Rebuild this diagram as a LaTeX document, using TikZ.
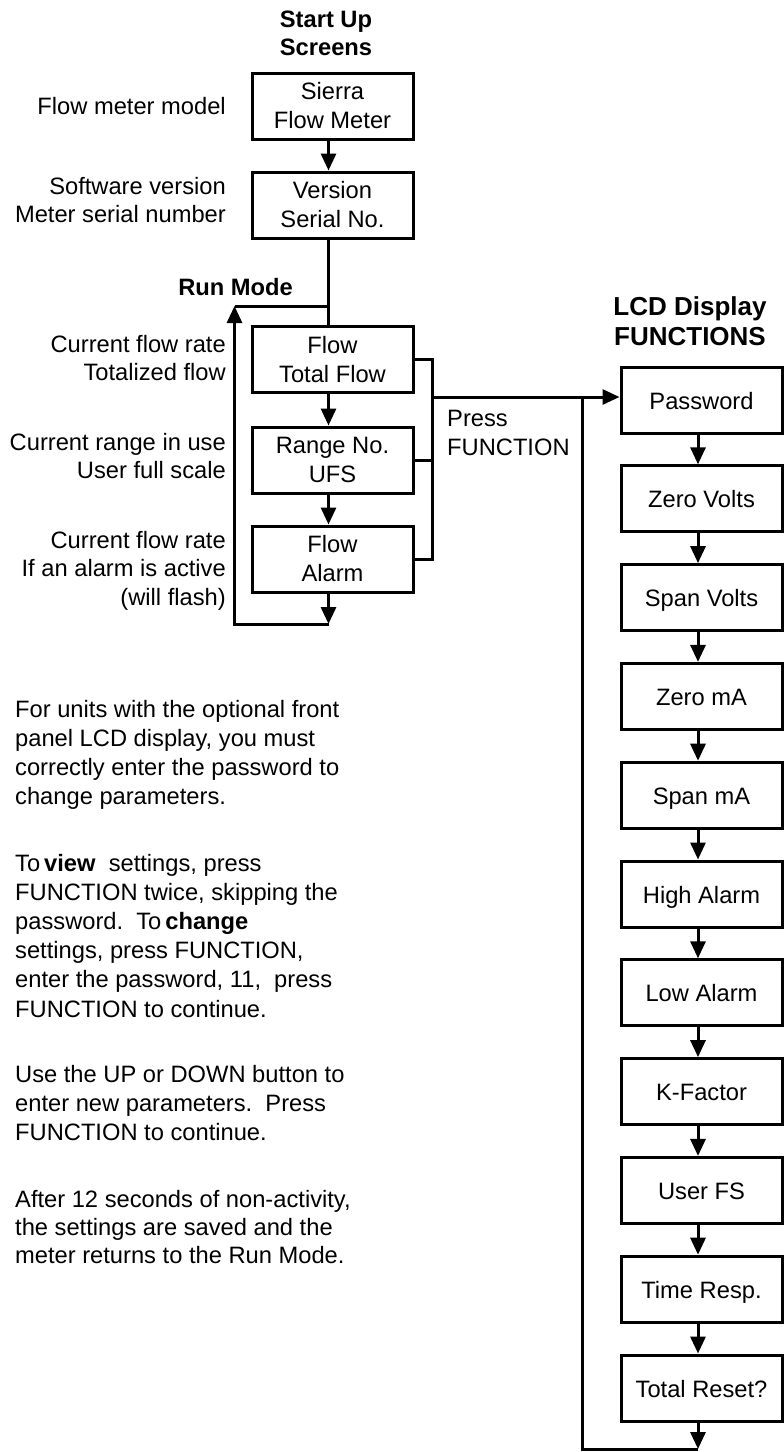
\documentclass[tikz,border=0pt]{standalone}
\usepackage{fontspec}
\setmainfont{Liberation Sans}
\usetikzlibrary{arrows.meta,calc}
\newcommand{\rlines}[1]{\parbox[t]{300pt}{\raggedleft #1}}
\newcommand{\llines}[1]{\parbox[t]{420pt}{\raggedright #1}}
\newcommand{\clines}[1]{\parbox[t]{300pt}{\centering #1}}
\begin{document}
\begin{tikzpicture}[x=1pt,y=-1pt,
  flowbox/.style={draw, line width=3pt, minimum width=161pt, minimum height=66pt,
    inner sep=0pt, align=center, font=\fontsize{23.7}{29}\selectfont},
  funcbox/.style={draw, line width=3pt, minimum width=161pt, minimum height=66pt,
    inner sep=0pt, text height=18pt, text depth=0pt, font=\fontsize{23.7}{29}\selectfont},
  lbl/.style={inner sep=0pt, anchor=base east, font=\fontsize{23.7}{28.5}\selectfont},
  para/.style={inner sep=0pt, anchor=base west, font=\fontsize{23.7}{29.2}\selectfont},
  ttl/.style={inner sep=0pt, anchor=base, font=\bfseries\fontsize{23.7}{28}\selectfont},
  conn/.style={line width=3pt},
  arr/.style={conn, -{Triangle[length=17pt,width=15pt]}},
]
\useasboundingbox (0,0) rectangle (784,1452);

% titles
\node[ttl] (t1) at (326,27) {\clines{Start Up\\Screens}};
\node[ttl, font=\bfseries\fontsize{26}{30}\selectfont] (t2) at (690,315) {\clines{LCD Display\\FUNCTIONS}};
\node[ttl, anchor=base east] (rmt) at (293,295) {Run Mode};

% start-up and run-mode boxes
\node[flowbox] (s1) at (332.5,106) {Sierra\\Flow Meter};
\node[flowbox] (s2) at (332.5,205) {Version\\Serial No.};
\node[flowbox] (r1) at (332.5,359.5) {Flow\\Total Flow};
\node[flowbox] (r2) at (332.5,460) {Range No.\\UFS};
\node[flowbox] (r3) at (332.5,559) {Flow\\Alarm};

% left labels
\node[lbl] (l1) at (226,114) {\rlines{Flow meter model}};
\node[lbl] (l2) at (226,194) {\rlines{Software version\\Meter serial number}};
\node[lbl] (l3) at (226,352) {\rlines{Current flow rate\\Totalized flow}};
\node[lbl] (l4) at (226,450) {\rlines{Current range in use\\User full scale}};
\node[lbl] (l5) at (226,548) {\rlines{Current flow rate\\If an alarm is active\\(will flash)}};

% function boxes
\foreach \t [count=\i from 0] in {Password,Zero Volts,Span Volts,Zero mA,Span mA,High Alarm,Low Alarm,K-Factor,User FS,Time Resp.,Total Reset?}
  \node[funcbox] (f\i) at (701.5,{400+98.8*\i}) {\t};

% press function label
\node[para] (pf) at (447,426) {\llines{Press\\FUNCTION}};

% paragraphs
\node[para] (p1) at (15,717) {\llines{For units with the optional front\\panel LCD display, you must\\correctly enter the password to\\change parameters.}};
\node[para] (p2) at (15,871) {\llines{To\,\textbf{view}\ \ settings, press\\FUNCTION twice, skipping the\\password.\ \ To\,\textbf{change}\\settings, press FUNCTION,\\enter the password, 11,\ \ press\\FUNCTION to continue.}};
\node[para] (p3) at (15,1082) {\llines{Use the UP or DOWN button to\\enter new parameters.\ \ Press\\FUNCTION to continue.}};
\node[para, font=\fontsize{23.7}{28.2}\selectfont] (p4) at (15,1207) {\llines{After 12 seconds of non-activity,\\the settings are saved and the\\meter returns to the Run Mode.}};

% left column connectors
\draw[arr] ([xshift=-4pt]s1.south) -- ([xshift=-4pt]s2.north);
\draw[conn] ([xshift=-4pt]s2.south) -- ([xshift=-4pt]r1.north);
\draw[arr] ([xshift=-4pt]r1.south) -- ([xshift=-4pt]r2.north);
\draw[arr] ([xshift=-4pt]r2.south) -- ([xshift=-4pt]r3.north);
\coordinate (lb) at (328.5,624);
\coordinate (ll) at (234.5,624);
\coordinate (rmL) at (234.5,306);
\coordinate (rm) at (328.5,306);
\draw[arr] ([xshift=-4pt]r3.south) -- (lb);
\draw[arr] (lb) -- (ll) -- (rmL);
\draw[conn] (rmL) -- (rm);

% bracket to functions
\coordinate (bx) at (432,0);
\draw[conn] (r1.east) -- (r1.east -| bx) -- (r3.east -| bx) -- (r3.east);
\draw[conn] (r2.east) -- (r2.east -| bx);
\coordinate (fj) at (432,397);
\draw[arr] (fj) -- (fj -| f0.west);

% function chain
\foreach \i/\j in {0/1,1/2,2/3,3/4,4/5,5/6,6/7,7/8,8/9,9/10}
  \draw[arr] ([xshift=-3.5pt]f\i.south) -- ([xshift=-3.5pt]f\j.north);
\coordinate (vl) at (582,397);
\coordinate (vb) at (582,1449);
\coordinate (rb) at ([xshift=-3.5pt]f10.south |- vb);
\draw[arr] ([xshift=-3.5pt]f10.south) -- (rb);
\draw[conn] (vl) -- (vb) -- (rb);
\end{tikzpicture}
\end{document}
